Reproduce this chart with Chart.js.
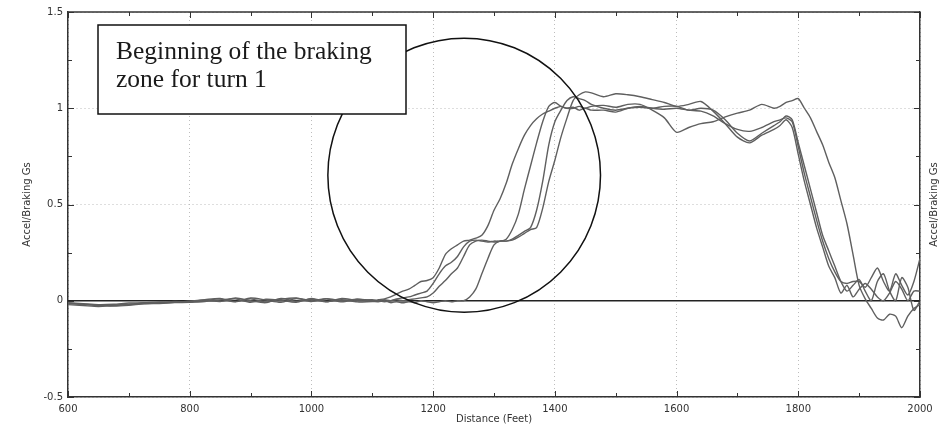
<!DOCTYPE html>
<html>
<head>
<meta charset="utf-8">
<script src="https://cdn.jsdelivr.net/npm/chart.js@4/dist/chart.umd.min.js"></script>
<style>
  html, body { margin: 0; padding: 0; background: #fff; }
  canvas { display: block; }
</style>
</head>
<body>
<canvas id="chart" width="947" height="427"></canvas>
<script>
// distance along the lap (feet)
const distance = [600,625,650,675,700,725,750,775,800,825,850,875,900,925,950,975,1000,1025,1050,1075,1100,
  1110,1120,1130,1140,1150,1160,1170,1180,1190,1200,1210,1220,1230,1240,1250,1260,1270,1280,1290,1300,
  1310,1320,1330,1340,1350,1360,1370,1380,1390,1400,1410,1420,1430,1440,1450,1460,
  1480,1500,1520,1540,1560,1580,1600,1620,1640,1660,1680,1700,1720,1740,1760,
  1770,1780,1790,1800,1810,1820,1830,1840,1850,1860,1870,1880,1890,1900,1910,1920,1930,1940,1950,1960,1970,1980,1990,2000];

// accel / braking g, one array per lap
const lapA = [-0.01,-0.015,-0.02,-0.018,-0.012,-0.01,-0.006,-0.008,-0.002,0.006,0.012,-0.004,0.01,-0.006,0.008,0.014,-0.004,0.01,0,0.008,-0.002,
  0.005,0.01,0.02,0.035,0.05,0.06,0.08,0.1,0.105,0.12,0.17,0.24,0.27,0.29,0.31,0.315,0.325,0.34,0.39,0.47,0.53,0.61,0.71,0.79,0.86,0.91,0.945,0.97,0.985,1.0,1.01,1.0,1.005,0.99,1.0,0.99,
  0.99,0.98,1.0,1.01,1.0,0.995,1.0,0.99,0.985,0.96,0.92,0.89,0.88,0.9,0.93,
  0.94,0.95,0.93,0.8,0.66,0.54,0.42,0.31,0.22,0.15,0.1,0.09,0.1,0.1,0.07,0.12,0.17,0.1,0.05,0.14,0.08,0.03,0.1,0.22];
const lapB = [-0.015,-0.02,-0.025,-0.022,-0.018,-0.012,-0.01,-0.004,-0.006,0.004,-0.004,0.014,0,-0.01,0.012,-0.002,0.008,-0.006,0.012,0.002,0.006,
  0,0.005,0,0.01,0.015,0.02,0.03,0.04,0.05,0.09,0.14,0.18,0.2,0.23,0.28,0.31,0.315,0.31,0.305,0.31,0.31,0.32,0.37,0.45,0.58,0.7,0.82,0.93,1.01,1.03,1.01,1.0,1.0,1.01,1.0,1.01,
  1.015,1.005,1.02,1.02,0.99,0.95,0.875,0.9,0.92,0.93,0.955,0.975,0.99,1.02,1.0,
  1.01,1.03,1.04,1.05,1.0,0.95,0.88,0.81,0.72,0.64,0.52,0.4,0.24,0.08,0.01,-0.04,-0.09,-0.1,-0.07,-0.08,-0.14,-0.08,-0.04,-0.02];
const lapC = [-0.02,-0.025,-0.03,-0.025,-0.02,-0.015,-0.012,-0.008,-0.004,0,0.01,-0.006,0.014,0.004,-0.008,0.012,0.002,0.01,-0.006,0.008,0.002,
  0,-0.005,0,0.005,0,0.005,0.01,0.015,0.02,0.04,0.075,0.105,0.14,0.17,0.23,0.29,0.31,0.315,0.31,0.305,0.31,0.31,0.32,0.34,0.36,0.38,0.47,0.62,0.81,0.93,0.99,1.04,1.06,1.05,1.04,1.02,
  1.0,0.99,1.0,1.005,1.0,1.01,1.01,0.99,1.0,0.99,0.94,0.87,0.83,0.87,0.91,
  0.93,0.96,0.94,0.82,0.7,0.58,0.46,0.34,0.26,0.18,0.1,0.05,0.08,0.11,0.05,0,0.1,0.14,0.05,0,0.12,0.07,-0.05,0];
const lapD = [-0.012,-0.018,-0.022,-0.028,-0.024,-0.016,-0.014,-0.01,-0.008,-0.004,0.004,0.01,-0.008,0.008,0.002,-0.008,0.012,-0.004,0.006,-0.006,-0.004,
  -0.005,0,-0.01,-0.005,-0.01,-0.005,-0.01,0,-0.005,-0.01,-0.005,0,-0.005,0,0,0.02,0.06,0.14,0.22,0.29,0.31,0.31,0.315,0.33,0.35,0.37,0.38,0.48,0.62,0.73,0.85,0.95,1.04,1.07,1.085,1.08,
  1.06,1.075,1.07,1.06,1.045,1.03,1.01,1.02,1.035,0.985,0.92,0.85,0.82,0.86,0.89,
  0.91,0.94,0.9,0.76,0.62,0.5,0.38,0.28,0.18,0.12,0.04,0.08,0.02,0.06,0.09,0.06,0.02,0,0.04,0.1,0.06,0,0.05,0.05];

const xLabels = [600, 800, 1000, 1200, 1400, 1600, 1800, 2000];
const yLabels = [-0.5, 0, 0.5, 1, 1.5];
const noteLines = ['Beginning of the braking', 'zone for turn 1'];
const axisTitle = 'Accel/Braking Gs';

const laps = [lapA, lapB, lapC, lapD];
const isLabel = (list, v) => list.some(l => Math.abs(l - v) < 1e-6);

// inner tick marks, top border, circle, note box, right title
const overlay = {
  id: 'overlay',
  afterDatasetsDraw(chart) {
    const {ctx, chartArea: a, scales: {x, y}} = chart;
    ctx.save();

    ctx.strokeStyle = '#333';
    ctx.lineWidth = 1;
    ctx.beginPath();
    for (let v = 600; v <= 2000; v += 100) {
      const px = Math.round(x.getPixelForValue(v)) + 0.5;
      const len = v % 200 === 0 ? 6 : 4;
      ctx.moveTo(px, a.bottom); ctx.lineTo(px, a.bottom - len);
      ctx.moveTo(px, a.top); ctx.lineTo(px, a.top + len);
    }
    for (let v = -0.5; v <= 1.5; v += 0.25) {
      const py = Math.round(y.getPixelForValue(v)) + 0.5;
      const len = isLabel(yLabels, v) ? 6 : 4;
      ctx.moveTo(a.left, py); ctx.lineTo(a.left + len, py);
      ctx.moveTo(a.right, py); ctx.lineTo(a.right - len, py);
    }
    ctx.stroke();

    ctx.lineWidth = 1.5;
    ctx.beginPath();
    ctx.moveTo(a.left, a.top); ctx.lineTo(a.right, a.top);
    ctx.stroke();

    // circle round the start of braking
    const cx = x.getPixelForValue(1251), cy = y.getPixelForValue(0.652);
    const rx = x.getPixelForValue(1251 + 224) - cx;
    const ry = cy - y.getPixelForValue(0.652 + 0.712);
    ctx.strokeStyle = '#111';
    ctx.lineWidth = 1.5;
    ctx.beginPath();
    ctx.ellipse(cx, cy, rx, ry, 0, 0, Math.PI * 2);
    ctx.stroke();

    // note box
    ctx.fillStyle = '#fff';
    ctx.fillRect(98, 25, 308, 89);
    ctx.strokeStyle = '#111';
    ctx.lineWidth = 1.5;
    ctx.strokeRect(98, 25, 308, 89);
    ctx.fillStyle = '#1a1a1a';
    ctx.font = '25.5px "Liberation Serif", "Times New Roman", serif';
    ctx.textBaseline = 'alphabetic';
    ctx.textAlign = 'left';
    noteLines.forEach((t, i) => ctx.fillText(t, 116, 59 + i * 28));

    // right-hand axis title
    ctx.translate(934, (a.top + a.bottom) / 2);
    ctx.rotate(-Math.PI / 2);
    ctx.font = '10px "DejaVu Sans", sans-serif';
    ctx.fillStyle = '#333';
    ctx.textAlign = 'center';
    ctx.textBaseline = 'middle';
    ctx.fillText(axisTitle, 0, 0);
    ctx.restore();
  }
};

const tickFont = {family: '"DejaVu Sans", sans-serif', size: 10};
const gridGray = '#bdbdbd';

new Chart(document.getElementById('chart'), {
  type: 'line',
  data: {
    datasets: laps.map(lap => ({
      data: distance.map((d, i) => ({x: d, y: lap[i]})),
      borderColor: '#5f5f5f',
      borderWidth: 1.4,
      pointRadius: 0,
      tension: 0.25,
      fill: false
    })).concat([{
      data: [{x: 600, y: 0}, {x: 2000, y: 0}],
      borderColor: '#222',
      borderWidth: 1.3,
      pointRadius: 0
    }])
  },
  options: {
    responsive: false,
    animation: false,
    devicePixelRatio: 1,
    layout: {padding: {top: 12, right: 0, bottom: 0, left: 0}},
    plugins: {legend: {display: false}, tooltip: {enabled: false}},
    scales: {
      x: {
        type: 'linear',
        min: 600,
        max: 2000,
        afterFit: s => { s.height = 30; },
        ticks: {
          stepSize: 100,
          autoSkip: false,
          maxRotation: 0,
          padding: 6,
          color: '#333',
          font: tickFont,
          callback: v => isLabel(xLabels, v) ? String(v) : ''
        },
        grid: {
          drawTicks: false,
          color: c => c.tick && c.tick.value % 200 === 0 ? gridGray : 'rgba(0,0,0,0)'
        },
        border: {display: true, color: '#333', width: 1.5, dash: [1, 3]},
        title: {display: true, text: 'Distance (Feet)', color: '#333', font: tickFont, padding: {top: 0, bottom: 2}}
      },
      y: {
        min: -0.5,
        max: 1.5,
        afterFit: s => { s.width = 68; },
        ticks: {
          stepSize: 0.25,
          padding: 5,
          color: '#333',
          font: tickFont,
          callback: v => isLabel(yLabels, v) ? String(+v.toFixed(2)) : ''
        },
        grid: {
          drawTicks: false,
          color: c => c.tick && isLabel(yLabels, c.tick.value) && Math.abs(c.tick.value) > 1e-6 ? gridGray : 'rgba(0,0,0,0)'
        },
        border: {display: true, color: '#333', width: 1.5, dash: [1, 3]},
        title: {display: true, text: axisTitle, color: '#333', font: tickFont, padding: {top: 21, bottom: 0}}
      },
      y2: {
        position: 'right',
        min: -0.5,
        max: 1.5,
        afterFit: s => { s.width = 27; },
        ticks: {display: false},
        grid: {drawOnChartArea: false, drawTicks: false},
        border: {display: true, color: '#333', width: 1.5}
      }
    }
  },
  plugins: [overlay]
});
</script>
</body>
</html>
